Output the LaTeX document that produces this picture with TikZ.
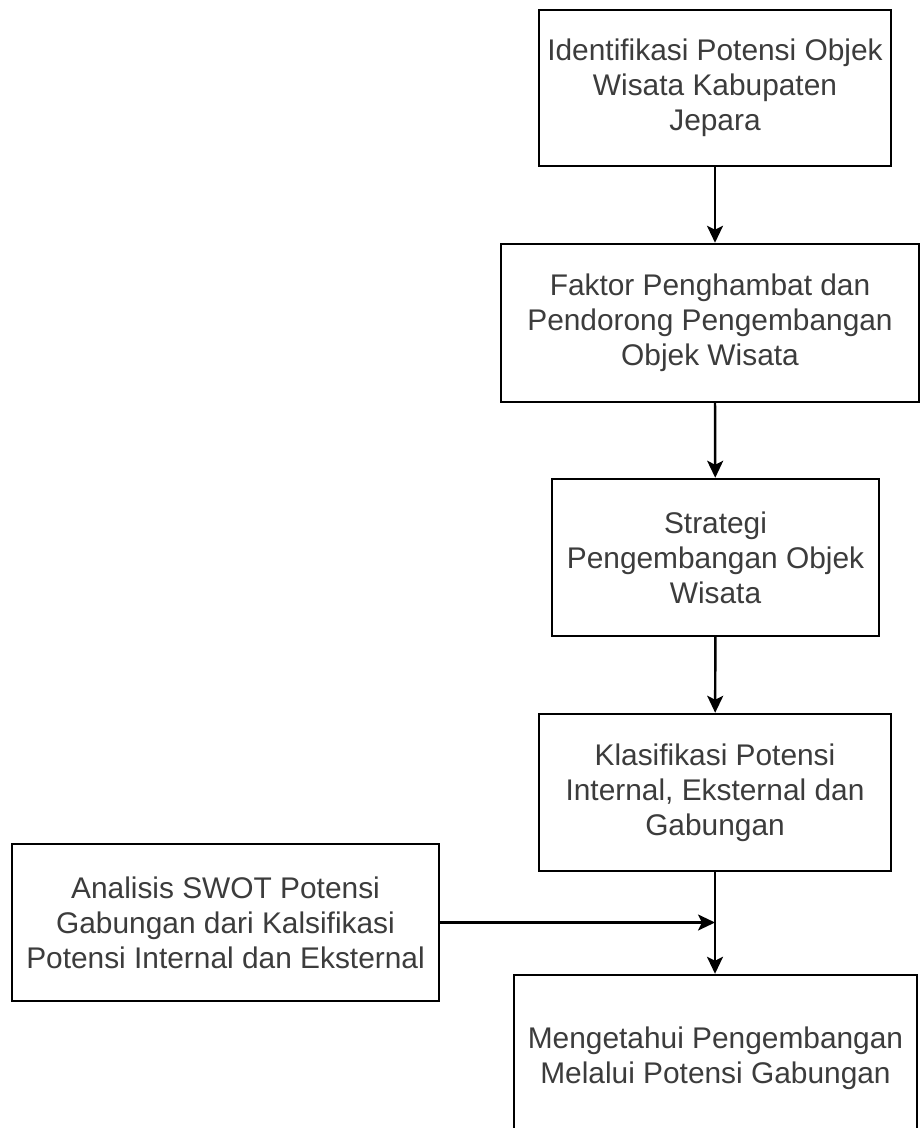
\documentclass[tikz,border=0pt]{standalone}
\usepackage{fontspec}
\setmainfont{Liberation Sans}
\usetikzlibrary{arrows.meta}
\definecolor{txtgray}{RGB}{60,60,60}
\begin{document}
\begin{tikzpicture}[x=0.02cm,y=-0.02cm,
        kotak/.style={draw,line width=1.4pt,align=center,inner sep=0pt,
            text=txtgray,font=\fontsize{17}{20}\selectfont},
        panah/.style={line width=1.4pt,-{Stealth[length=3.4mm,width=3.2mm,inset=0.8mm]}}]
        \useasboundingbox (0,0) rectangle (920,1128);
        % kotak-kotak alur
        \node[kotak,minimum width=352*0.02cm,minimum height=156*0.02cm] (identifikasi) at (715,88)
            {Identifikasi Potensi Objek\\Wisata Kabupaten\\Jepara};
        \node[kotak,minimum width=418*0.02cm,minimum height=158*0.02cm] (faktor) at (710,323)
            {Faktor Penghambat dan\\Pendorong Pengembangan\\Objek Wisata};
        \node[kotak,minimum width=327*0.02cm,minimum height=157*0.02cm] (strategi) at (715.5,557.5)
            {Strategi\\Pengembangan Objek\\Wisata};
        \node[kotak,minimum width=352*0.02cm,minimum height=157*0.02cm] (klasifikasi) at (715,792.5)
            {Klasifikasi Potensi\\Internal, Eksternal dan\\Gabungan};
        \node[kotak,minimum width=427*0.02cm,minimum height=157*0.02cm] (swot) at (225.5,922.5)
            {Analisis SWOT Potensi\\Gabungan dari Kalsifikasi\\Potensi Internal dan Eksternal};
        \node[kotak,minimum width=403*0.02cm,minimum height=166*0.02cm] (hasil) at (715.5,1058)
            {Mengetahui Pengembangan\\Melalui Potensi Gabungan};
        % panah
        \draw[panah] (identifikasi) -- (faktor.north -| identifikasi.south);
        \draw[panah] (faktor.south -| identifikasi.south) -- (strategi);
        \draw[panah] (strategi) -- (klasifikasi);
        \draw[panah] (klasifikasi) -- (hasil.north -| klasifikasi.south);
        \coordinate (temu) at (swot.east -| klasifikasi.south);
        \draw[panah] (swot.east) -- (temu);
\end{tikzpicture}
\end{document}
